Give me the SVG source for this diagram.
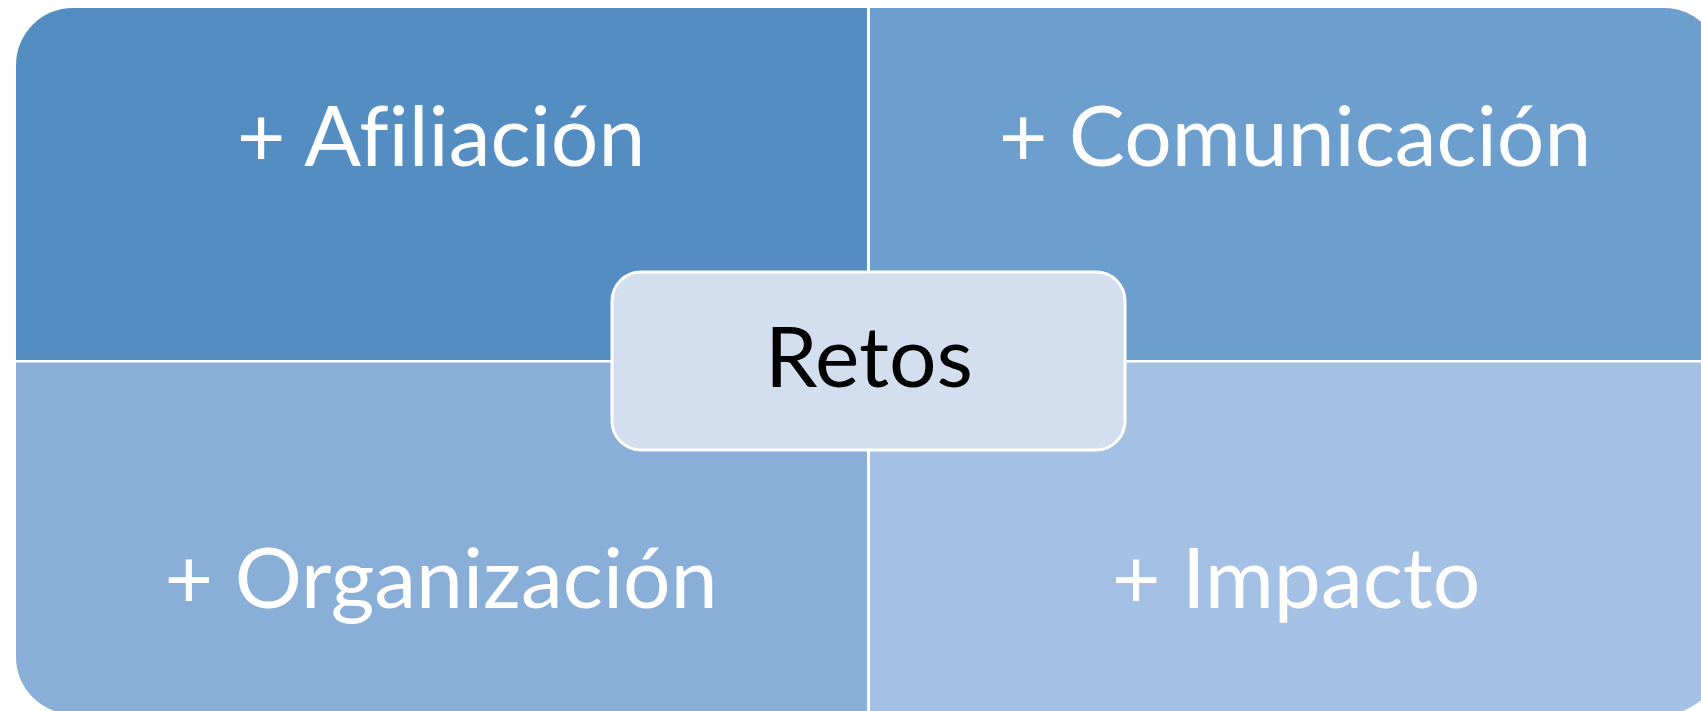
<svg xmlns="http://www.w3.org/2000/svg" width="1701" height="711" viewBox="0 0 1701 711">
<style>
.lbl{font-family:Lato,"Open Sans","Liberation Sans",sans-serif;font-size:84px;fill:#ffffff;text-anchor:middle;font-variant-ligatures:none;font-feature-settings:"liga" 0}
.ctr{font-family:Lato,"Open Sans","Liberation Sans",sans-serif;font-size:84px;fill:#000000;text-anchor:middle}
</style>
<rect width="1701" height="711" fill="#ffffff"/>
<g id="afiliacion">
<path d="M73,8 H867 V360 H16 V65 A57,57 0 0 1 73,8 Z" fill="#538DC2"/>
<text class="lbl" x="441" y="166">+ Afiliación</text>
</g>
<g id="comunicacion">
<path d="M870,8 H1664 A57,57 0 0 1 1721,65 V360 H870 Z" fill="#6C9ECE"/>
<text class="lbl" x="1295" y="166">+ Comunicación</text>
</g>
<g id="organizacion">
<path d="M16,362.5 H867 V714 H73 A57,57 0 0 1 16,657 Z" fill="#89AED8"/>
<text class="lbl" x="441" y="608">+ Organización</text>
</g>
<g id="impacto">
<path d="M870,362.5 H1721 V657 A57,57 0 0 1 1664,714 H870 Z" fill="#A4C0E4"/>
<text class="lbl" x="1296" y="608">+ Impacto</text>
</g>
<g id="connectors"></g>
<g id="retos">
<rect x="612" y="272" width="513" height="178" rx="29" ry="29" fill="#D3DEEF" stroke="#ffffff" stroke-width="3"/>
<text class="ctr" x="869" y="387">Retos</text>
</g>
</svg>
